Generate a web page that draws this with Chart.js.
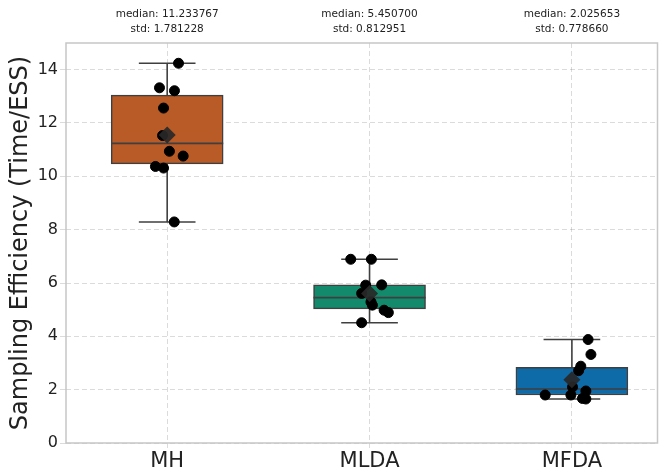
<!DOCTYPE html>
<html>
<head>
<meta charset="utf-8">
<script src="https://cdn.jsdelivr.net/npm/chart.js@4.4.1/dist/chart.umd.min.js"></script>
<style>
    html, body { margin: 0; padding: 0; background: #fff; overflow: hidden; }
    #wrap { width: 666px; height: 472px; }
</style>
</head>
<body>
<div id="wrap"><canvas id="chart"></canvas></div>
<script>
// Categories and raw sample values
const categories = ['MH', 'MLDA', 'MFDA'];
const mhValues   = [14.24, 13.32, 13.21, 12.56, 11.53, 10.94, 10.76, 10.37, 10.31, 8.29];
const mldaValues = [6.89, 6.89, 5.93, 5.92, 5.61, 5.29, 5.17, 4.98, 4.89, 4.51];
const mfdaValues = [3.88, 3.32, 2.88, 2.71, 2.10, 1.95, 1.80, 1.80, 1.67, 1.65];
// Horizontal jitter of each dot, in category units
const mhJitter   = [0.056, -0.038, 0.036, -0.018, -0.023, 0.011, 0.079, -0.058, -0.018, 0.035];
const mldaJitter = [-0.093, 0.009, 0.060, -0.019, -0.039, 0.007, 0.014, 0.072, 0.093, -0.039];
const mfdaJitter = [0.080, 0.094, 0.044, 0.033, 0.003, 0.069, -0.132, -0.005, 0.052, 0.069];
// Text shown above each box
const medianLabels = ['median: 11.233767', 'median: 5.450700', 'median: 2.025653'];
const stdLabels    = ['std: 1.781228', 'std: 0.812951', 'std: 0.778660'];
const yTicks = [0, 2, 4, 6, 8, 10, 12, 14];

const boxColors = ['#b85b27', '#138a6c', '#0f6aa8'];
const edgeColor = '#3f3f3f';
const boxHalf = 0.277;
const capHalf = 0.14;

const groups = [mhValues, mldaValues, mfdaValues];
const jitters = [mhJitter, mldaJitter, mfdaJitter];

function quantile(sorted, q) {
    const pos = (sorted.length - 1) * q;
    const lo = Math.floor(pos), hi = Math.ceil(pos);
    return sorted[lo] + (sorted[hi] - sorted[lo]) * (pos - lo);
}

// box statistics, same rules as a matplotlib boxplot
const stats = groups.map(vals => {
    const s = [...vals].sort((a, b) => a - b);
    const q1 = quantile(s, 0.25), q3 = quantile(s, 0.75), med = quantile(s, 0.5);
    const iqr = q3 - q1;
    const lo = Math.min(...s.filter(v => v >= q1 - 1.5 * iqr));
    const hi = Math.max(...s.filter(v => v <= q3 + 1.5 * iqr));
    const mean = s.reduce((a, b) => a + b, 0) / s.length;
    return { q1, q3, med, lo, hi, mean };
});

const datasets = [];

// boxes as floating bars
datasets.push({
    type: 'bar',
    data: stats.map((s, i) => ({ x: i, y: [s.q1, s.q3] })),
    backgroundColor: boxColors,
    borderColor: edgeColor,
    borderWidth: 1.5,
    borderSkipped: false,
    barThickness: 112,
    grouped: false,
    order: 3
});

// whiskers, caps and median lines
function segment(x1, y1, x2, y2) {
    datasets.push({
        type: 'line',
        data: [{ x: x1, y: y1 }, { x: x2, y: y2 }],
        borderColor: edgeColor,
        borderWidth: 1.6,
        pointRadius: 0,
        fill: false,
        order: 2
    });
}
stats.forEach((s, i) => {
    segment(i, s.lo, i, s.q1);
    segment(i, s.q3, i, s.hi);
    segment(i - capHalf, s.lo, i + capHalf, s.lo);
    segment(i - capHalf, s.hi, i + capHalf, s.hi);
    segment(i - boxHalf, s.med, i + boxHalf, s.med);
});

// individual samples
datasets.push({
    type: 'scatter',
    data: groups.flatMap((vals, i) => vals.map((v, k) => ({ x: i + jitters[i][k], y: v }))),
    backgroundColor: '#000',
    borderColor: '#000',
    pointRadius: 5,
    order: 1
});

// means
datasets.push({
    type: 'scatter',
    data: stats.map((s, i) => ({ x: i, y: s.mean })),
    pointStyle: 'rectRot',
    pointRadius: 8.5,
    backgroundColor: 'rgba(40,40,40,0.92)',
    borderColor: 'rgba(40,40,40,0.92)',
    borderWidth: 0,
    order: 0
});

const gridColor = 'rgba(0,0,0,0.14)';
const font = "'DejaVu Sans', sans-serif";

const decorations = {
    id: 'decorations',
    afterDatasetsDraw(chart) {
        const { ctx, chartArea: a } = chart;
        ctx.save();
        ctx.strokeStyle = '#c6c6c6';
        ctx.lineWidth = 1.5;
        ctx.strokeRect(a.left, a.top, a.right - a.left, a.bottom - a.top);
        ctx.restore();
    },
    afterDraw(chart) {
        const { ctx } = chart;
        const xs = chart.scales.x;
        ctx.save();
        ctx.fillStyle = '#222';
        ctx.font = "10.5px " + font;
        ctx.textAlign = 'center';
        ctx.textBaseline = 'middle';
        categories.forEach((c, i) => {
            const px = xs.getPixelForValue(i);
            ctx.fillText(medianLabels[i], px, 14);
            ctx.fillText(stdLabels[i], px, 29);
        });
        ctx.restore();
    }
};

new Chart(document.getElementById('chart'), {
    type: 'scatter',
    data: { datasets },
    plugins: [decorations],
    options: {
        responsive: true,
        maintainAspectRatio: false,
        animation: false,
        layout: { padding: { top: 43, right: 8, left: 0, bottom: 0 } },
        plugins: { legend: { display: false }, tooltip: { enabled: false } },
        scales: {
            x: {
                type: 'linear',
                min: -0.5,
                max: 2.423,
                offset: false,
                afterBuildTicks: scale => { scale.ticks = categories.map((c, i) => ({ value: i })); },
                afterFit: scale => { scale.height = 29; },
                ticks: {
                    callback: v => categories[v] ?? '',
                    font: { family: font, size: 21 },
                    color: '#222',
                    padding: 1,
                    maxRotation: 0
                },
                grid: { color: gridColor, offset: false, tickLength: 5, lineWidth: 1 },
                border: { display: false, dash: [5, 3] }
            },
            y: {
                min: 0,
                max: 15,
                afterBuildTicks: scale => { scale.ticks = yTicks.map(v => ({ value: v })); },
                afterFit: scale => { scale.width = 66; },
                ticks: {
                    font: { family: font, size: 16 },
                    color: '#222',
                    padding: 2
                },
                grid: { color: gridColor, tickLength: 6, lineWidth: 1 },
                border: { display: false, dash: [5, 3] },
                title: {
                    display: true,
                    text: 'Sampling Efficiency (Time/ESS)',
                    font: { family: font, size: 24 },
                    color: '#222',
                    padding: { top: 6, bottom: 0 }
                }
            }
        }
    }
});
</script>
</body>
</html>
